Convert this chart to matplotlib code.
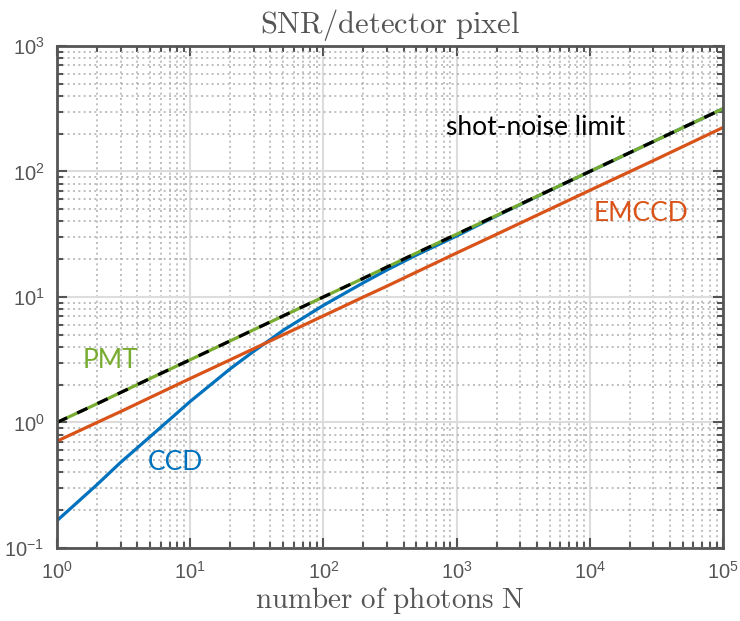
import numpy as np
import matplotlib.pyplot as plt
from matplotlib.ticker import LogLocator, FuncFormatter, NullFormatter

# values
n_photons = [1, 2, 3, 5, 10, 20, 30, 50, 100, 200, 300, 500,
             1000, 2000, 5000, 10000, 30000, 100000]
snr_shot = [1.0, 1.41, 1.73, 2.24, 3.16, 4.47, 5.48, 7.07, 10.0, 14.1, 17.3, 22.4,
            31.6, 44.7, 70.7, 100, 173, 316]
snr_pmt = [1.0, 1.41, 1.73, 2.24, 3.16, 4.47, 5.48, 7.07, 10.0, 14.1, 17.3, 22.4,
           31.6, 44.7, 70.7, 100, 173, 316]
snr_emccd = [0.71, 1.0, 1.22, 1.58, 2.24, 3.16, 3.87, 5.0, 7.07, 10.0, 12.2, 15.8,
             22.4, 31.6, 50.0, 70.7, 122, 224]
snr_ccd = [0.165, 0.32, 0.48, 0.77, 1.47, 2.68, 3.69, 5.43, 8.57, 13.0, 16.4, 21.6,
           30.6, 44.3, 70.5, 99.8, 173, 316]

plt.rcParams['mathtext.fontset'] = 'cm'
plt.rcParams['font.family'] = ['Liberation Sans', 'DejaVu Sans']

fig = plt.figure(figsize=(7.4, 6.21), dpi=100)
ax = fig.add_axes([0.077, 0.1176, 0.9, 0.8084])

ax.plot(n_photons, snr_ccd, color='#0072BD', lw=2.3)
ax.plot(n_photons, snr_emccd, color='#D95319', lw=2.3)
ax.plot(n_photons, snr_pmt, color='#77AC30', lw=2.3)
ax.plot(n_photons, snr_shot, color='black', lw=2.3, dashes=(3.5, 3.5))

ax.set_xscale('log')
ax.set_yscale('log')
ax.set_xlim(1, 1e5)
ax.set_ylim(0.1, 1000)

ax.xaxis.set_major_locator(LogLocator(base=10, numticks=10))
ax.yaxis.set_major_locator(LogLocator(base=10, numticks=10))
ax.xaxis.set_minor_locator(LogLocator(base=10, subs=np.arange(2, 10), numticks=20))
ax.yaxis.set_minor_locator(LogLocator(base=10, subs=np.arange(2, 10), numticks=20))
fmt = FuncFormatter(lambda v, p: r'$\mathregular{10^{%d}}$' % round(np.log10(v)))
ax.xaxis.set_major_formatter(fmt)
ax.yaxis.set_major_formatter(fmt)
ax.xaxis.set_minor_formatter(NullFormatter())
ax.yaxis.set_minor_formatter(NullFormatter())

ax.grid(True, which='major', color='#dcdcdc', lw=1.5, ls='-')
ax.grid(True, which='minor', color='#b4b4b4', lw=1.2, ls=(0, (1.2, 2)))
ax.set_axisbelow(True)

ax.tick_params(which='both', direction='in', top=True, right=True,
               colors='#555555', labelsize=14.5, width=1.5)
ax.tick_params(which='major', length=7, pad=9)
ax.tick_params(which='minor', length=4)
for s in ax.spines.values():
    s.set_color('#555555')
    s.set_linewidth(2)

ax.set_title(r'$\mathrm{SNR/detector\ pixel}$', fontsize=22, color='#555555', pad=9)
ax.set_xlabel(r'$\mathrm{number\ of\ photons\ N}$', fontsize=21, color='#555555', labelpad=2)

lbl = dict(fontsize=19, family=['Lato', 'DejaVu Sans'], va='center')
ax.text(826, 224, 'shot-noise limit', color='black', **lbl)
ax.text(10700, 46, 'EMCCD', color='#D95319', **lbl)
ax.text(1.57, 3.1, 'PMT', color='#77AC30', **lbl)
ax.text(4.83, 0.48, 'CCD', color='#0072BD', **lbl)

fig.savefig('out.png', dpi=100)
